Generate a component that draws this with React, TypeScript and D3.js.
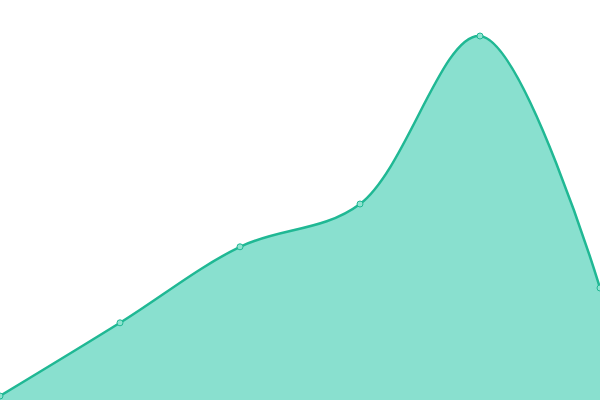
import { useMemo } from "react";
import * as d3 from "d3";

const width = 600;
const height = 400;

const categories = ["A", "B", "C", "D", "E", "F"];
const values = [1, 19.3, 38.3, 49, 91, 28];

const App = () => {
  const { areaPath, linePath, points } = useMemo(() => {
    const x = d3
      .scalePoint<string>()
      .domain(categories)
      .range([0, width]);
    const y = d3.scaleLinear().domain([0, 100]).range([height, 0]);

    const area = d3
      .area<number>()
      .x((_, i) => x(categories[i]) as number)
      .y0(height)
      .y1((d) => y(d))
      .curve(d3.curveCatmullRom);
    const line = d3
      .line<number>()
      .x((_, i) => x(categories[i]) as number)
      .y((d) => y(d))
      .curve(d3.curveCatmullRom);

    const points = values.map((v, i) => ({
      cx: x(categories[i]) as number,
      cy: y(v),
    }));

    return { areaPath: area(values), linePath: line(values), points };
  }, []);

  return (
    <svg
      width={width}
      height={height}
      style={{ position: "absolute", left: 0, top: 0 }}
    >
      <path d={areaPath ?? undefined} fill="#89e0cf" />
      <path
        d={linePath ?? undefined}
        fill="none"
        stroke="#20b894"
        strokeWidth={2.5}
      />
      {points.map((p, i) => (
        <circle
          key={i}
          cx={p.cx}
          cy={p.cy}
          r={3}
          fill="#8fe3d0"
          stroke="#20b894"
          strokeWidth={1}
        />
      ))}
    </svg>
  );
};

export default App;
